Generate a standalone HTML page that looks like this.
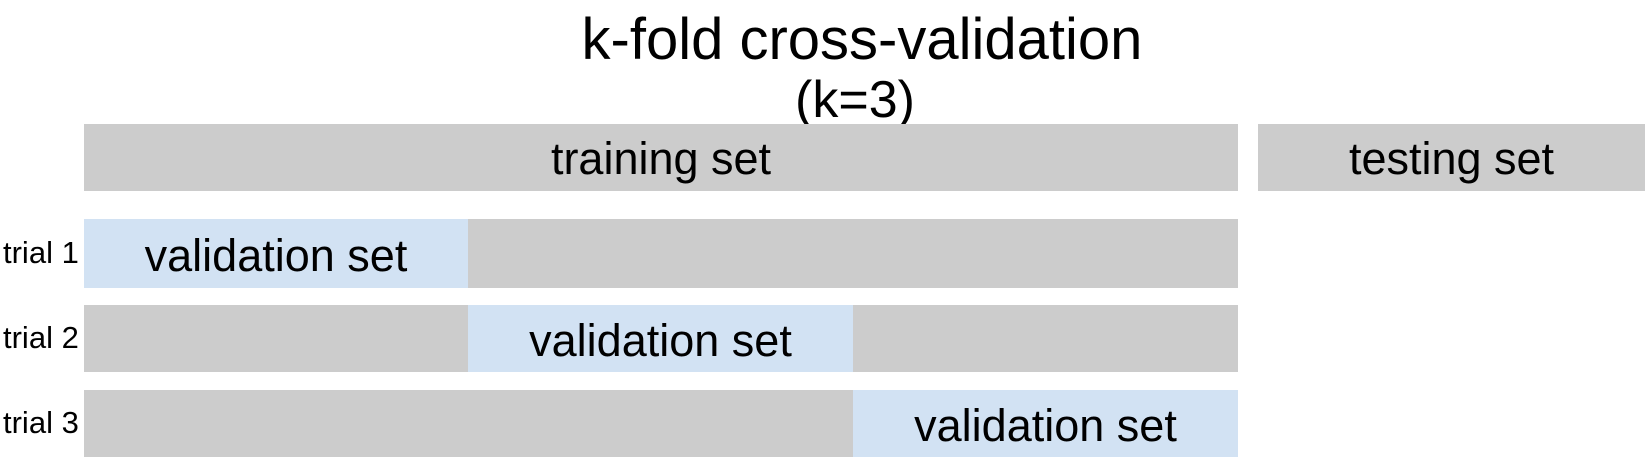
<!DOCTYPE html>
<html><head><meta charset="utf-8"><style>
html,body{margin:0;padding:0;background:#fff;}
body{width:1650px;height:461px;position:relative;overflow:hidden;font-family:"Liberation Sans",Arial,sans-serif;color:#000;}
.t{position:absolute;white-space:nowrap;line-height:1;}
.b{position:absolute;background:#cccccc;}
.v{position:absolute;background:#d2e2f3;}
.c{position:absolute;display:flex;align-items:center;justify-content:center;font-size:45px;white-space:nowrap;}
</style></head><body>
<div class="t" style="left:0;width:1724px;text-align:center;top:11px;font-size:58px;">k-fold cross-validation</div>
<div class="t" style="left:0;width:1710px;text-align:center;top:74px;font-size:52px;">(k=3)</div>

<div class="b" style="left:84px;top:124px;width:1154px;height:67px;"></div>
<div class="c" style="left:84px;top:124px;width:1154px;height:67px;padding-top:2px;box-sizing:border-box;">training set</div>
<div class="b" style="left:1258px;top:124px;width:387px;height:67px;"></div>
<div class="c" style="left:1258px;top:124px;width:387px;height:67px;padding-top:2px;box-sizing:border-box;">testing set</div>

<div class="b" style="left:84px;top:219px;width:1154px;height:69px;"></div>
<div class="v" style="left:84px;top:219px;width:384px;height:69px;"></div>
<div class="c" style="left:84px;top:219px;width:384px;height:69px;padding-top:4px;box-sizing:border-box;">validation set</div>

<div class="b" style="left:84px;top:305px;width:1154px;height:67px;"></div>
<div class="v" style="left:468px;top:305px;width:385px;height:67px;"></div>
<div class="c" style="left:468px;top:305px;width:385px;height:67px;padding-top:4px;box-sizing:border-box;">validation set</div>

<div class="b" style="left:84px;top:390px;width:1154px;height:67px;"></div>
<div class="v" style="left:853px;top:390px;width:385px;height:67px;"></div>
<div class="c" style="left:853px;top:390px;width:385px;height:67px;padding-top:4px;box-sizing:border-box;">validation set</div>

<div class="t" style="left:3px;top:237px;font-size:31px;">trial 1</div>
<div class="t" style="left:3px;top:322px;font-size:31px;">trial 2</div>
<div class="t" style="left:3px;top:407px;font-size:31px;">trial 3</div>
</body></html>
